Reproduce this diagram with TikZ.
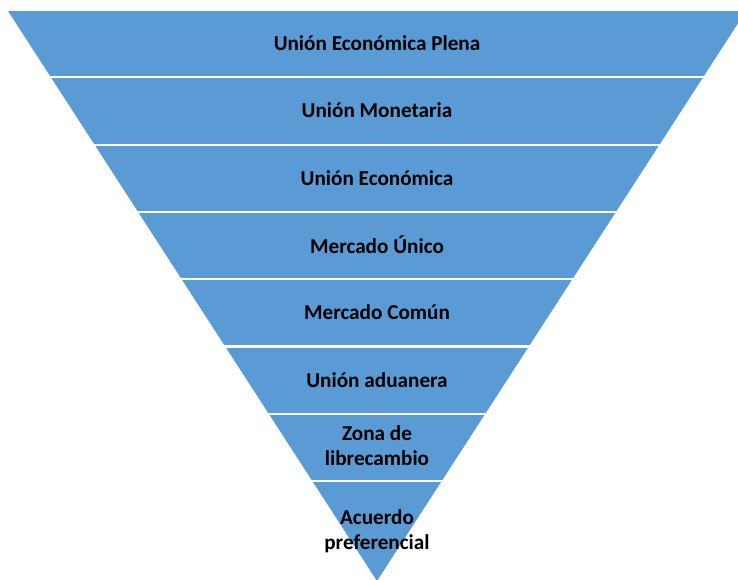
\documentclass[tikz,border=0pt]{standalone}
\usepackage{fontspec}
\setmainfont{Carlito}
\definecolor{azul}{HTML}{5B9BD5}
\begin{document}
\begin{tikzpicture}[x=1pt,y=-1pt,font=\fontsize{21.2}{25}\selectfont\bfseries]
                \useasboundingbox (0,0) rectangle (738,579);
                \clip (0,0) rectangle (738,579);
                \fill[azul] (8,11) -- (746,11) -- (377,581) -- cycle;
                \foreach \k in {1,...,7}
                \draw[white,line width=2.2pt] (0,{11+67.3*\k-1}) -- (738,{11+67.3*\k-1});
                \foreach \i/\t in {1/Unión Económica Plena,2/Unión Monetaria,3/Unión Económica,4/Mercado Único,5/Mercado Común,6/Unión aduanera}
                \node (c\i) at (377,{11+67.3*(\i-0.5)-1.5}) {\t};
                \node[align=center] (c7) at (377,446) {Zona de\\librecambio};
                \node[align=center] (c8) at (377,531) {Acuerdo\\preferencial};
            \end{tikzpicture}
\end{document}
